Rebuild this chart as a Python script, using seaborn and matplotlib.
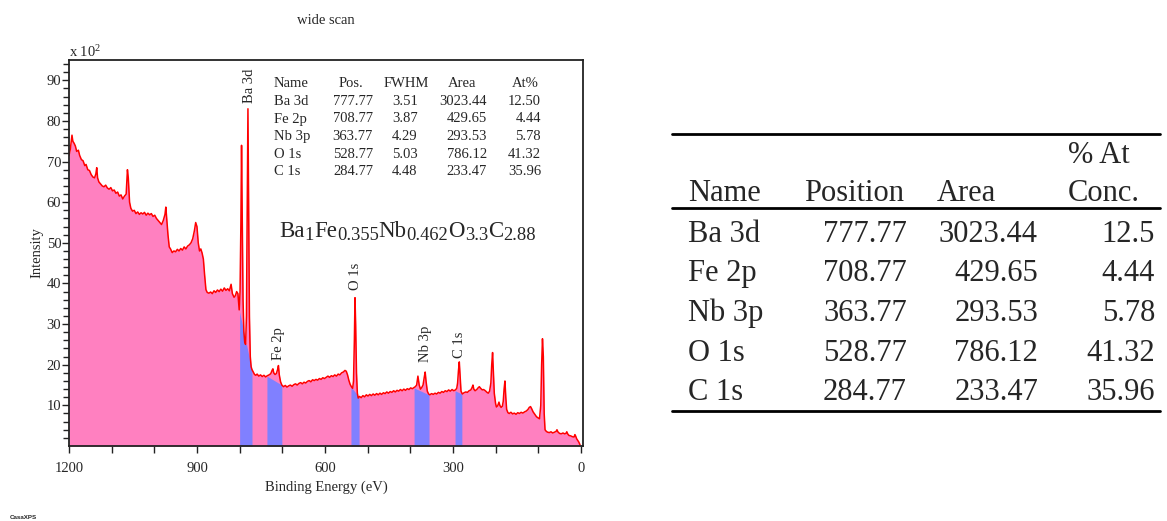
import numpy as np
import pandas as pd
import matplotlib
matplotlib.use("Agg")
import matplotlib.pyplot as plt
import seaborn as sns

# ---- survey spectrum: binding energy (eV) and intensity (counts x 10^2) ----
binding_energy = [
    1200, 1197, 1193, 1191, 1188, 1185, 1182, 1178, 1175, 1171, 1167, 1163, 1160, 1156,
    1152, 1148, 1144, 1140, 1137, 1135, 1133, 1130, 1126, 1122, 1118, 1114, 1110, 1106,
    1102, 1098, 1094, 1090, 1086, 1082, 1078, 1074, 1070, 1066, 1063, 1061, 1058, 1055,
    1051, 1047, 1043, 1039, 1035, 1031, 1027, 1023, 1019, 1015, 1011, 1007, 1003, 999,
    995, 991, 987, 983, 979, 975, 973, 971, 968, 965, 962, 958, 954, 950, 946, 942,
    938, 934, 930, 926, 922, 918, 914, 910, 906, 903, 900, 897, 894, 891, 888, 885,
    882, 879, 876, 872, 868, 864, 860, 856, 852, 848, 844, 840, 836, 832, 828, 824,
    820, 817, 813, 810, 807, 804, 801, 799, 797, 795.5, 794, 792, 790, 788, 786, 784,
    782, 780.5, 779, 777, 775, 773, 771, 768, 765, 762, 759, 755, 751, 747, 743, 739,
    735, 731, 727, 724, 722, 720, 717, 714, 711, 709, 707, 704, 701, 697, 693, 689,
    685, 681, 677, 673, 669, 665, 661, 657, 653, 649, 645, 641, 637, 633, 629, 625,
    621, 617, 613, 609, 605, 601, 597, 593, 589, 585, 581, 577, 573, 569, 565, 561,
    557, 553, 550, 547, 544, 541, 538, 535, 533, 531, 529.5, 528, 526, 524, 522, 519,
    515, 511, 507, 503, 499, 495, 491, 487, 483, 479, 475, 471, 467, 463, 459, 455,
    451, 447, 443, 439, 435, 431, 427, 423, 419, 415, 411, 407, 403, 399, 395, 391,
    388, 385, 382, 379, 376, 373, 370, 367, 365, 363, 360, 357, 354, 350, 346, 342,
    338, 334, 330, 326, 322, 318, 314, 310, 306, 302, 298, 294, 291, 289, 287, 285,
    283, 281, 278, 274, 270, 266, 262, 258, 255, 253, 251, 248, 244, 241, 238, 235,
    231, 228, 224, 220, 217, 214, 211, 209, 207, 205, 203, 200, 198, 195, 192, 190,
    187, 184, 182, 180, 178, 176, 174, 171, 168, 164, 160, 156, 152, 148, 144, 140,
    136, 132, 128, 124, 121, 118, 115, 112, 108, 104, 100, 97, 94, 92, 90, 88,
    86, 84, 81, 78, 74, 70, 66, 62, 58, 56, 54, 50, 46, 42, 38, 35,
    33, 31, 28, 24, 20, 16, 14, 12, 10, 8, 5, 2,
]
intensity = [
    71.5, 73.0, 76.5, 75.0, 74.5, 73.8, 72.5, 72.8, 71.5, 70.5, 70.2, 69.0, 69.3, 68.0,
    67.8, 66.8, 66.2, 66.0, 67.0, 68.5, 66.0, 65.0, 64.5, 64.0, 63.8, 64.2, 63.5, 63.2,
    63.6, 62.8, 63.0, 62.2, 62.5, 61.5, 61.8, 60.8, 61.5, 62.0, 68.0, 66.0, 60.0, 58.5,
    57.8, 58.0, 57.2, 57.6, 57.0, 57.4, 57.1, 57.5, 56.8, 57.3, 56.9, 57.2, 56.5, 56.8,
    56.0, 55.5, 55.0, 54.5, 55.5, 57.0, 58.8, 56.0, 52.0, 49.0, 48.5, 47.6, 48.0, 47.8,
    48.4, 48.0, 48.6, 48.2, 49.0, 48.5, 49.2, 49.5, 50.0, 51.0, 53.0, 55.0, 54.0, 50.0,
    48.0, 48.5, 47.5, 46.0, 42.0, 38.5, 37.8, 37.6, 37.9, 37.5, 38.2, 37.8, 38.4, 38.0,
    38.6, 38.1, 38.9, 38.3, 38.7, 38.2, 39.8, 37.5, 36.6, 37.0, 38.0, 37.5, 33.5, 38.0,
    55.0, 74.0, 58.0, 36.0, 28.0, 25.5, 25.0, 32.0, 60.0, 83.0, 62.0, 32.0, 22.0, 19.5,
    18.8, 18.2, 17.6, 17.4, 17.7, 17.2, 17.5, 17.1, 17.4, 17.0, 17.3, 17.5, 17.8, 18.6,
    19.0, 18.0, 17.6, 17.8, 18.8, 19.8, 17.5, 15.8, 15.0, 14.6, 14.9, 14.5, 14.8, 15.0,
    14.7, 15.1, 15.3, 15.0, 15.4, 15.6, 15.3, 15.7, 15.5, 15.9, 16.1, 15.8, 16.3, 16.1,
    16.4, 16.2, 16.6, 16.4, 16.8, 16.6, 16.9, 17.2, 16.9, 17.3, 17.1, 17.5, 17.2, 17.7,
    17.5, 18.0, 18.2, 18.6, 18.4, 17.5, 16.2, 15.2, 14.6, 14.2, 16.0, 26.0, 36.5, 30.0,
    18.0, 13.0, 11.8, 12.2, 11.9, 12.4, 12.1, 12.6, 12.3, 12.7, 12.4, 12.8, 12.5, 12.9,
    12.6, 13.0, 12.7, 13.1, 12.9, 13.3, 13.0, 13.4, 13.2, 13.6, 13.3, 13.7, 13.5, 13.9,
    13.6, 14.0, 13.7, 14.1, 13.9, 14.3, 14.1, 14.4, 14.6, 15.0, 17.2, 15.0, 14.0, 14.4,
    15.0, 17.0, 18.2, 16.0, 13.5, 12.8, 12.6, 12.9, 12.7, 13.0, 12.8, 13.2, 13.0, 13.4,
    13.2, 13.6, 13.4, 13.8, 13.5, 13.9, 13.6, 13.8, 14.2, 15.5, 18.5, 20.7, 17.0, 13.5,
    12.8, 13.1, 13.3, 13.2, 13.6, 13.8, 14.4, 15.0, 14.0, 13.6, 13.9, 14.3, 14.6, 14.2,
    13.8, 13.9, 13.6, 13.2, 13.0, 13.5, 15.5, 20.0, 23.0, 18.0, 13.0, 10.5, 9.6, 9.9,
    10.8, 10.0, 9.5, 9.8, 11.0, 14.0, 16.0, 12.0, 9.0, 8.2, 8.0, 8.3, 7.9, 8.1,
    7.8, 8.2, 8.0, 8.3, 8.1, 8.4, 8.6, 9.0, 9.5, 9.7, 9.1, 8.4, 7.8, 7.2,
    6.9, 6.7, 10.0, 20.0, 26.4, 22.0, 8.0, 4.0, 3.6, 3.4, 3.3, 3.5, 3.2, 3.4,
    3.6, 4.0, 3.5, 3.1, 3.0, 3.2, 3.0, 3.1, 3.5, 3.0, 2.6, 2.5, 2.3, 2.2,
    2.8, 2.4, 1.8, 1.5, 1.0, 0.3,
]

# ---- quantification results ----
peak_names = ["Ba 3d", "Fe 2p", "Nb 3p", "O 1s", "C 1s"]
peak_pos = [777.77, 708.77, 363.77, 528.77, 284.77]
peak_fwhm = [3.51, 3.87, 4.29, 5.03, 4.48]
peak_area = [3023.44, 429.65, 293.53, 786.12, 233.47]
peak_at_pct = [12.50, 4.44, 5.78, 41.32, 35.96]

# integration windows (high / low BE) with linear background end points
region_hi = [800, 736, 391, 539, 295]
region_lo = [771, 701, 356, 520, 279]
bg_hi = [33.0, 17.2, 14.3, 14.6, 13.6]
bg_lo = [18.6, 15.0, 12.6, 12.0, 12.8]
# height of the vertical region labels
label_y = [84.5, 21.2, 20.7, 38.4, 21.7]

formula_elements = ["Ba", "Fe", "Nb", "O", "C"]
formula_stoich = ["1", "0.355", "0.462", "3.3", "2.88"]

x_ticks = [1200, 900, 600, 300, 0]
y_ticks = [10, 20, 30, 40, 50, 60, 70, 80, 90]

# ---- style ----
sns.set_theme(style="ticks")
plt.rcParams["font.family"] = ["Liberation Serif", "DejaVu Serif"]
plt.rcParams["mathtext.fontset"] = "custom"
plt.rcParams["mathtext.rm"] = "Liberation Serif"
plt.rcParams["mathtext.it"] = "Liberation Serif:italic"
plt.rcParams["mathtext.bf"] = "Liberation Serif:bold"

W, H = 1167, 521
fig = plt.figure(figsize=(W / 100, H / 100), dpi=100)
fig.patch.set_facecolor("white")


def fpos(px, py):
    """pixel position (from top-left) -> figure fraction"""
    return px / W, 1 - py / H


ax_l, ax_r, ax_t, ax_b = 69, 583, 60, 446
ax = fig.add_axes([ax_l / W, 1 - ax_b / H, (ax_r - ax_l) / W, (ax_b - ax_t) / H])
ax.set_facecolor("white")

PINK = "#FF80C0"
BLUE = "#8080FF"

df = pd.DataFrame({"Binding Energy (eV)": binding_energy, "Intensity": intensity})
spec = df.sort_values("Binding Energy (eV)")
e_arr = spec["Binding Energy (eV)"].to_numpy()
i_arr = spec["Intensity"].to_numpy()

# envelope fill
ax.fill_between(e_arr, 0, i_arr, color=PINK, linewidth=0, zorder=1)

# background areas of the quantified regions
for hi, lo, bh, bl in zip(region_hi, region_lo, bg_hi, bg_lo):
    m = (e_arr >= lo) & (e_arr <= hi)
    ee = np.concatenate(([lo], e_arr[m], [hi]))
    bg = np.interp(ee, [lo, hi], [bl, bh])
    top = np.minimum(bg, np.interp(ee, e_arr, i_arr))
    ax.fill_between(ee, 0, top, color=BLUE, linewidth=0, zorder=2)

sns.lineplot(data=df, x="Binding Energy (eV)", y="Intensity", color="#FF0000",
             linewidth=1.1, estimator=None, errorbar=None, ax=ax, zorder=3)

ax.set_xlim(1200, -5)
ax.set_ylim(0, 95)
ax.set_xticks(x_ticks)
ax.set_xticklabels([str(t) for t in x_ticks])
ax.set_xticks(np.arange(0, 1201, 100), minor=True)
ax.set_yticks(y_ticks)
ax.set_yticklabels([str(t) for t in y_ticks])
ax.set_yticks(np.arange(2, 95, 2), minor=True)
ax.tick_params(axis="x", which="major", direction="out", length=5, width=1,
               labelsize=10.5, pad=6.5, color="#222222")
ax.tick_params(axis="x", which="minor", direction="out", length=5, width=1, color="#222222")
ax.tick_params(axis="y", which="major", direction="out", length=5, width=1,
               labelsize=10.5, pad=0.5, color="#222222")
ax.tick_params(axis="y", which="minor", direction="out", length=4, width=1, color="#222222")
for sp in ax.spines.values():
    sp.set_linewidth(1.3)
    sp.set_color("#222222")
    sp.set_zorder(5)

ax.set_xlabel("Binding Energy (eV)", fontsize=10.5, labelpad=4)
ax.set_ylabel("Intensity", fontsize=10.5, labelpad=2)

# vertical region labels
for name, pos, ly in zip(peak_names, peak_pos, label_y):
    ax.text(pos, ly, name, rotation=90, ha="center", va="bottom", fontsize=10.5, zorder=4)

# multiplier above the y axis
ax.text(0.0, 1.0, "x 10$^{2}$", transform=ax.transAxes, ha="left", va="bottom",
        fontsize=10.5)

# title
fig.text(*fpos(326, 20), "wide scan", ha="center", va="center", fontsize=10.5)

# quantification table inside the plot
fs_in = 10.5
hdr_y, row0_y, row_dy = 87, 105, 17.5
fig.text(*fpos(274, hdr_y), "Name", ha="left", va="baseline", fontsize=fs_in)
fig.text(*fpos(351, hdr_y), "Pos.", ha="center", va="baseline", fontsize=fs_in)
fig.text(*fpos(406, hdr_y), "FWHM", ha="center", va="baseline", fontsize=fs_in)
fig.text(*fpos(462, hdr_y), "Area", ha="center", va="baseline", fontsize=fs_in)
fig.text(*fpos(525, hdr_y), "At%", ha="center", va="baseline", fontsize=fs_in)
for k, (n, p, fw, a, at) in enumerate(zip(peak_names, peak_pos, peak_fwhm, peak_area, peak_at_pct)):
    yy = row0_y + k * row_dy
    fig.text(*fpos(274, yy), n, ha="left", va="baseline", fontsize=fs_in)
    fig.text(*fpos(373, yy), f"{p:.2f}", ha="right", va="baseline", fontsize=fs_in)
    fig.text(*fpos(405, yy), f"{fw:.2f}", ha="center", va="baseline", fontsize=fs_in)
    fig.text(*fpos(487, yy), f"{a:.2f}", ha="right", va="baseline", fontsize=fs_in)
    fig.text(*fpos(541, yy), f"{at:.2f}", ha="right", va="baseline", fontsize=fs_in)

# empirical formula with subscripts
base_y = 237
sub_y = base_y + 3.5
prev = fig.text(*fpos(279, base_y), formula_elements[0], ha="left", va="baseline", fontsize=16.5)
for k, (el, st) in enumerate(zip(formula_elements, formula_stoich)):
    if k > 0:
        prev = ax.annotate(el, xy=(1, fpos(0, base_y)[1]), xycoords=(prev, "figure fraction"),
                           ha="left", va="baseline", fontsize=16.5, annotation_clip=False)
    prev = ax.annotate(st, xy=(1, fpos(0, sub_y)[1]), xycoords=(prev, "figure fraction"),
                       ha="left", va="baseline", fontsize=13.3, annotation_clip=False)

# ---- summary table on the right ----
fs_t = 22
rule_x0, rule_x1 = 672 / W, 1160 / W
for ry, lw in [(134, 2.0), (208, 2.0), (411, 2.0)]:
    fig.add_artist(plt.Line2D([rule_x0, rule_x1], [1 - ry / H] * 2, color="black",
                              linewidth=lw, transform=fig.transFigure))
fig.text(*fpos(688, 201), "Name", ha="left", va="baseline", fontsize=fs_t)
fig.text(*fpos(804, 201), "Position", ha="left", va="baseline", fontsize=fs_t)
fig.text(*fpos(937, 201), "Area", ha="left", va="baseline", fontsize=fs_t)
fig.text(*fpos(1068, 163), "% At", ha="left", va="baseline", fontsize=fs_t)
fig.text(*fpos(1068, 201), "Conc.", ha="left", va="baseline", fontsize=fs_t)
for k, (n, p, a, at) in enumerate(zip(peak_names, peak_pos, peak_area, peak_at_pct)):
    yy = 241.5 + k * 39.7
    fig.text(*fpos(688, yy), n, ha="left", va="baseline", fontsize=fs_t)
    fig.text(*fpos(907, yy), f"{p:g}", ha="right", va="baseline", fontsize=fs_t)
    fig.text(*fpos(1038, yy), f"{a:g}", ha="right", va="baseline", fontsize=fs_t)
    fig.text(*fpos(1155, yy), f"{at:g}", ha="right", va="baseline", fontsize=fs_t)

# software tag
fig.text(*fpos(10, 519), "CasaXPS", ha="left", va="baseline", fontsize=4.5,
         fontweight="bold", family=["Liberation Sans", "DejaVu Sans"])

fig.savefig("out.png", dpi=100, facecolor="white")
